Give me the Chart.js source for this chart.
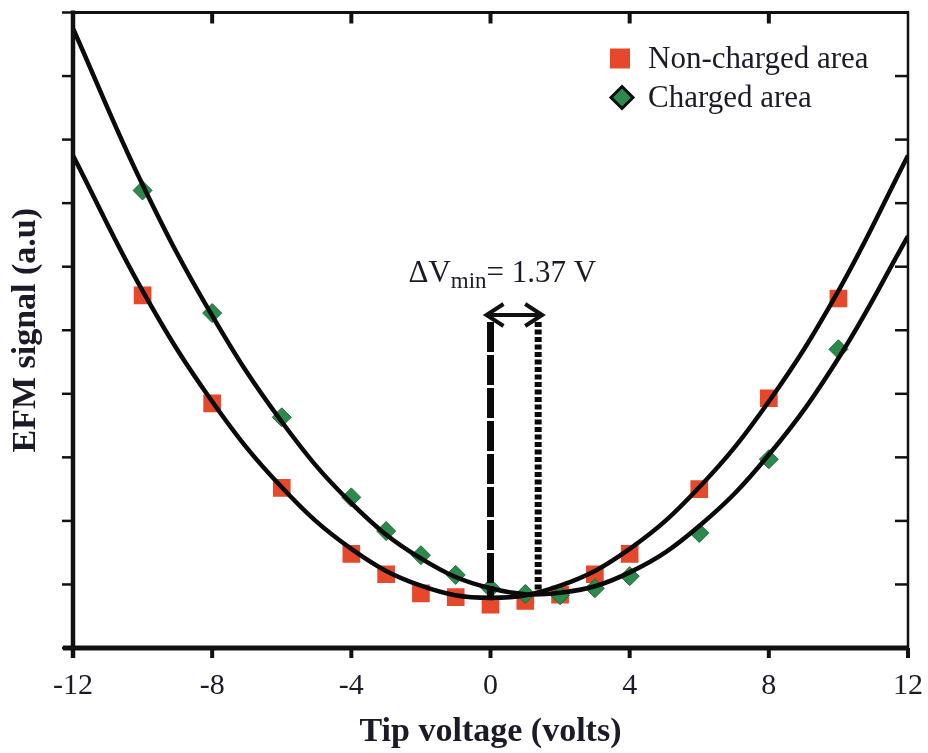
<!DOCTYPE html>
<html>
<head>
<meta charset="utf-8">
<title>EFM signal vs tip voltage</title>
<script src="https://cdn.jsdelivr.net/npm/chart.js@4.4.1/dist/chart.umd.min.js"></script>
<style>
  html, body { margin: 0; padding: 0; background: #fff; }
  #wrap { width: 928px; height: 753px; }
</style>
</head>
<body>
<div id="wrap"><canvas id="efmChart" width="928" height="753"></canvas></div>
<script>
// Measured points (tip voltage in V, EFM signal in a.u.)
const voltages = [-10, -8, -6, -4, -3, -2, -1, 0, 1, 2, 3, 4, 6, 8, 10];
const nonChargedSignal = [5.55, 3.85, 2.52, 1.48, 1.16, 0.86, 0.80, 0.68, 0.74, 0.84, 1.16, 1.48, 2.50, 3.93, 5.50];
const chargedSignal = [7.20, 5.27, 3.63, 2.37, 1.84, 1.46, 1.15, 0.94, 0.85, 0.83, 0.94, 1.13, 1.81, 2.97, 4.70];

// Parabolic fit curves, sampled every 2 V
const fitVoltages = [-12, -10, -8, -6, -4, -2, 0, 2, 4, 6, 8, 10, 12];
const nonChargedFit = [7.75, 5.62, 3.88, 2.53, 1.56, 0.98, 0.79, 0.98, 1.56, 2.53, 3.88, 5.62, 7.75];
const chargedFit = [9.75, 7.29, 5.23, 3.56, 2.28, 1.41, 0.94, 0.87, 1.19, 1.92, 3.04, 4.56, 6.48];

// Minimum shift between the two curves
const vMinNonCharged = 0;
const deltaVmin = 1.37;
const markerTop = 5.13;
const markerBottoms = [0.75, 0.82];
const arrowLevel = 5.24;

const xTickValues = [-12, -8, -4, 0, 4, 8, 12];
const legendLabels = ['Non-charged area', 'Charged area'];

const RED = '#e5482b';
const GREEN = '#2b8a4c';
const INK = '#1b1b28';
const SERIF = "'Liberation Serif', 'Times New Roman', serif";

function toPoints(xs, ys) {
    return xs.map((v, i) => ({ x: v, y: ys[i] }));
}

// Frame and tick marks: outward on left/bottom, inward on right/top
const framePlugin = {
    id: 'frame',
    afterDatasetsDraw(chart) {
        const { ctx, chartArea: a, scales: { x, y } } = chart;
        ctx.save();
        ctx.strokeStyle = '#111';
        ctx.lineCap = 'butt';

        // right and top borders
        ctx.lineWidth = 2.5;
        ctx.beginPath();
        ctx.moveTo(a.right, a.top - 1);
        ctx.lineTo(a.right, a.bottom + 10);
        ctx.stroke();
        ctx.lineWidth = 3;
        ctx.beginPath();
        ctx.moveTo(a.left, a.top);
        ctx.lineTo(a.right + 1, a.top);
        ctx.stroke();

        // left border
        ctx.lineWidth = 4.5;
        ctx.beginPath();
        ctx.moveTo(a.left, a.top - 2);
        ctx.lineTo(a.left, a.bottom + 10);
        ctx.stroke();

        // bottom border
        ctx.lineWidth = 5;
        ctx.beginPath();
        ctx.moveTo(a.left - 10, a.bottom);
        ctx.lineTo(a.right + 1, a.bottom);
        ctx.stroke();

        // y ticks
        ctx.lineWidth = 2.5;
        y.ticks.forEach(t => {
            const py = y.getPixelForValue(t.value);
            ctx.beginPath();
            ctx.moveTo(a.left - 11, py);
            ctx.lineTo(a.left, py);
            ctx.stroke();
            if (t.value > y.min && t.value < y.max) {
                ctx.beginPath();
                ctx.moveTo(a.right, py);
                ctx.lineTo(a.right - 13, py);
                ctx.stroke();
            }
        });

        // x ticks
        ctx.lineWidth = 4;
        x.ticks.forEach(t => {
            const px = x.getPixelForValue(t.value);
            ctx.beginPath();
            ctx.moveTo(px, a.bottom);
            ctx.lineTo(px, a.bottom + 10);
            ctx.stroke();
            if (t.value > x.min && t.value < x.max) {
                ctx.beginPath();
                ctx.moveTo(px, a.top);
                ctx.lineTo(px, a.top + 11);
                ctx.stroke();
            }
        });
        ctx.restore();
    }
};

// Delta V arrow and its label, plus the in-plot legend
const overlayPlugin = {
    id: 'overlay',
    afterDraw(chart) {
        const { ctx, chartArea: a, scales: { x, y } } = chart;
        const x0 = x.getPixelForValue(vMinNonCharged);
        const x1 = x.getPixelForValue(vMinNonCharged + deltaVmin);
        const ya = y.getPixelForValue(arrowLevel);

        ctx.save();
        ctx.strokeStyle = '#111';
        ctx.lineWidth = 4;
        ctx.lineJoin = 'miter';
        ctx.beginPath();
        ctx.moveTo(x0 - 4, ya);
        ctx.lineTo(x1 + 4, ya);
        ctx.stroke();
        ctx.beginPath();
        ctx.moveTo(x0 + 13, ya - 11);
        ctx.lineTo(x0 - 4, ya);
        ctx.lineTo(x0 + 13, ya + 11);
        ctx.moveTo(x1 - 13, ya - 11);
        ctx.lineTo(x1 + 4, ya);
        ctx.lineTo(x1 - 13, ya + 11);
        ctx.stroke();

        // label: ΔV_min = 1.37 V
        const mainFont = '31px ' + SERIF;
        const subFont = '23px ' + SERIF;
        const partA = '\u0394V';
        const partB = 'min';
        const partC = '= ' + deltaVmin.toFixed(2) + ' V';
        ctx.fillStyle = INK;
        ctx.textBaseline = 'alphabetic';
        ctx.textAlign = 'left';
        ctx.font = mainFont;
        const wA = ctx.measureText(partA).width;
        const wC = ctx.measureText(partC).width;
        ctx.font = subFont;
        const wB = ctx.measureText(partB).width;
        const total = wA + wB + wC;
        let tx = (x0 + x1) / 2 - 12 - total / 2;
        const base = ya - 33;
        ctx.font = mainFont;
        ctx.fillText(partA, tx, base);
        tx += wA;
        ctx.font = subFont;
        ctx.fillText(partB, tx, base + 6);
        tx += wB;
        ctx.font = mainFont;
        ctx.fillText(partC, tx, base);

        // legend
        const markX = a.right - 288;
        const textX = a.right - 260;
        const row1 = a.top + 46;
        const row2 = a.top + 85;
        ctx.fillStyle = RED;
        ctx.fillRect(markX - 10, row1 - 10, 20, 20);
        ctx.beginPath();
        ctx.moveTo(markX + 2, row2 - 11);
        ctx.lineTo(markX + 13, row2);
        ctx.lineTo(markX + 2, row2 + 11);
        ctx.lineTo(markX - 9, row2);
        ctx.closePath();
        ctx.fillStyle = GREEN;
        ctx.fill();
        ctx.lineWidth = 3;
        ctx.strokeStyle = '#0d0d0d';
        ctx.stroke();

        ctx.fillStyle = INK;
        ctx.font = '31px ' + SERIF;
        ctx.textBaseline = 'middle';
        ctx.fillText(legendLabels[0], textX, row1 + 1);
        ctx.fillText(legendLabels[1], textX, row2 + 1);
        ctx.restore();
    }
};

const ctx = document.getElementById('efmChart').getContext('2d');
new Chart(ctx, {
    type: 'scatter',
    data: {
        datasets: [
            {
                label: 'Vmin non-charged',
                data: [{ x: vMinNonCharged, y: markerTop }, { x: vMinNonCharged, y: markerBottoms[0] }],
                showLine: true,
                borderColor: '#0a0a0a',
                borderWidth: 7,
                borderDash: [30, 3],
                pointRadius: 0,
                order: 0
            },
            {
                label: 'Vmin charged',
                data: [{ x: vMinNonCharged + deltaVmin, y: markerTop }, { x: vMinNonCharged + deltaVmin, y: markerBottoms[1] }],
                showLine: true,
                borderColor: '#0a0a0a',
                borderWidth: 7,
                borderDash: [5, 2.5],
                pointRadius: 0,
                order: 1
            },
            {
                label: 'Non-charged fit',
                data: toPoints(fitVoltages, nonChargedFit),
                showLine: true,
                tension: 0.4,
                borderColor: '#0a0a0a',
                borderWidth: 4.5,
                pointRadius: 0,
                order: 2
            },
            {
                label: 'Charged fit',
                data: toPoints(fitVoltages, chargedFit),
                showLine: true,
                tension: 0.4,
                borderColor: '#0a0a0a',
                borderWidth: 4.5,
                pointRadius: 0,
                order: 3
            },
            {
                label: legendLabels[1],
                data: toPoints(voltages, chargedSignal),
                pointStyle: 'rectRot',
                pointRadius: 9.5,
                backgroundColor: GREEN,
                borderColor: '#1f6a3a',
                borderWidth: 1,
                order: 4
            },
            {
                label: legendLabels[0],
                data: toPoints(voltages, nonChargedSignal),
                pointStyle: 'rect',
                pointRadius: 12.5,
                backgroundColor: RED,
                borderColor: RED,
                borderWidth: 0,
                order: 5
            }
        ]
    },
    options: {
        responsive: false,
        devicePixelRatio: 1,
        animation: false,
        layout: { padding: { top: 12, right: 20, left: 0, bottom: 0 } },
        plugins: {
            legend: { display: false },
            tooltip: { enabled: false }
        },
        scales: {
            x: {
                type: 'linear',
                min: -12,
                max: 12,
                afterBuildTicks(scale) {
                    scale.ticks = xTickValues.map(v => ({ value: v }));
                },
                afterFit(scale) {
                    scale.height = 105;
                    scale.paddingLeft = 0;
                    scale.paddingRight = 0;
                },
                grid: { display: false, drawTicks: false },
                border: { display: false },
                ticks: {
                    padding: 20,
                    color: INK,
                    font: { family: SERIF, size: 30 }
                },
                title: {
                    display: true,
                    text: 'Tip voltage (volts)',
                    color: INK,
                    font: { family: SERIF, size: 34, weight: 'bold' },
                    padding: { top: 0, bottom: 0 }
                }
            },
            y: {
                type: 'linear',
                min: 0,
                max: 10,
                ticks: { display: false, stepSize: 1 },
                afterFit(scale) { scale.width = 73; },
                grid: { display: false, drawTicks: false },
                border: { display: false },
                title: {
                    display: true,
                    text: 'EFM signal (a.u)',
                    color: INK,
                    font: { family: SERIF, size: 34, weight: 'bold' },
                    padding: { top: 6, bottom: 0 }
                }
            }
        }
    },
    plugins: [framePlugin, overlayPlugin]
});
</script>
</body>
</html>
